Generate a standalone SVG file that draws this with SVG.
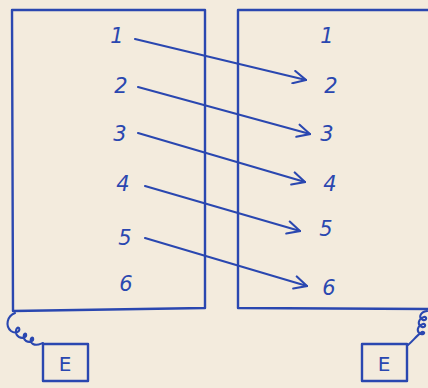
<svg xmlns="http://www.w3.org/2000/svg" width="428" height="388" viewBox="0 0 428 388">
<defs>
<marker id="ah" viewBox="0 0 12 12" refX="11" refY="6" markerWidth="15" markerHeight="15" markerUnits="userSpaceOnUse" orient="auto">
<path d="M1,1 L11,6 L1,11" fill="none" stroke="#2a47b0" stroke-width="1.7" stroke-linecap="round"/>
</marker>
<style>
.pen{fill:none;stroke:#2a47b0;stroke-width:2.4;stroke-linecap:round;stroke-linejoin:round}
.thin{fill:none;stroke:#2a47b0;stroke-width:2.1;stroke-linecap:round}
.lbl{font-family:"DejaVu Sans",sans-serif;font-style:italic;font-size:21px;fill:#2a47b0;text-anchor:middle}
.e{font-family:"DejaVu Sans",sans-serif;font-size:20px;fill:#2a47b0;text-anchor:middle}
</style>
</defs>
<rect width="428" height="388" fill="#f3ebdd"/>
<g id="left-box">
<path class="pen" d="M12,10 L205,10 L205,308 L13,311 Z"/>
<text class="lbl" x="117" y="43">1</text>
<text class="lbl" x="121" y="93">2</text>
<text class="lbl" x="120" y="141">3</text>
<text class="lbl" x="123" y="191">4</text>
<text class="lbl" x="125" y="245">5</text>
<text class="lbl" x="126" y="291">6</text>
</g>
<g id="right-box">
<path class="pen" d="M428,10 L238,10 L238,308 L428,309"/>
<text class="lbl" x="327" y="43">1</text>
<text class="lbl" x="331" y="93">2</text>
<text class="lbl" x="327" y="141">3</text>
<text class="lbl" x="330" y="191">4</text>
<text class="lbl" x="326" y="236">5</text>
<text class="lbl" x="329" y="295">6</text>
</g>
<g id="ground-left">
<path class="thin" d="M15,313 C7,316 5,326 11,331 C15,334 21,332 19,328 C16,326 14,334 19,337 C23,339 27,337 26,334 C24,332 22,338 26,341 C30,343 34,341 33,338 C31,336 29,342 33,344 C37,346 40,344 43,343"/>
<rect class="pen" x="43" y="344" width="45" height="37"/>
<text class="e" x="65" y="371">E</text>
</g>
<g id="ground-right">
<path class="thin" d="M427,311 C420,312 418,318 423,320 C427,321 427,316 424,317 C418,319 417,325 422,327 C426,328 426,323 423,324 C417,326 416,332 421,334 C425,335 425,331 422,332 C417,335 413,341 408,345"/>
<rect class="pen" x="362" y="344" width="45" height="37"/>
<text class="e" x="384" y="371">E</text>
</g>
<g id="connectors">
<path class="thin" d="M135,39 L306,80" marker-end="url(#ah)"/>
<path class="thin" d="M138,87 L310,134" marker-end="url(#ah)"/>
<path class="thin" d="M138,133 L305,182" marker-end="url(#ah)"/>
<path class="thin" d="M145,186 L300,231" marker-end="url(#ah)"/>
<path class="thin" d="M145,238 L307,286" marker-end="url(#ah)"/>
</g>
</svg>
